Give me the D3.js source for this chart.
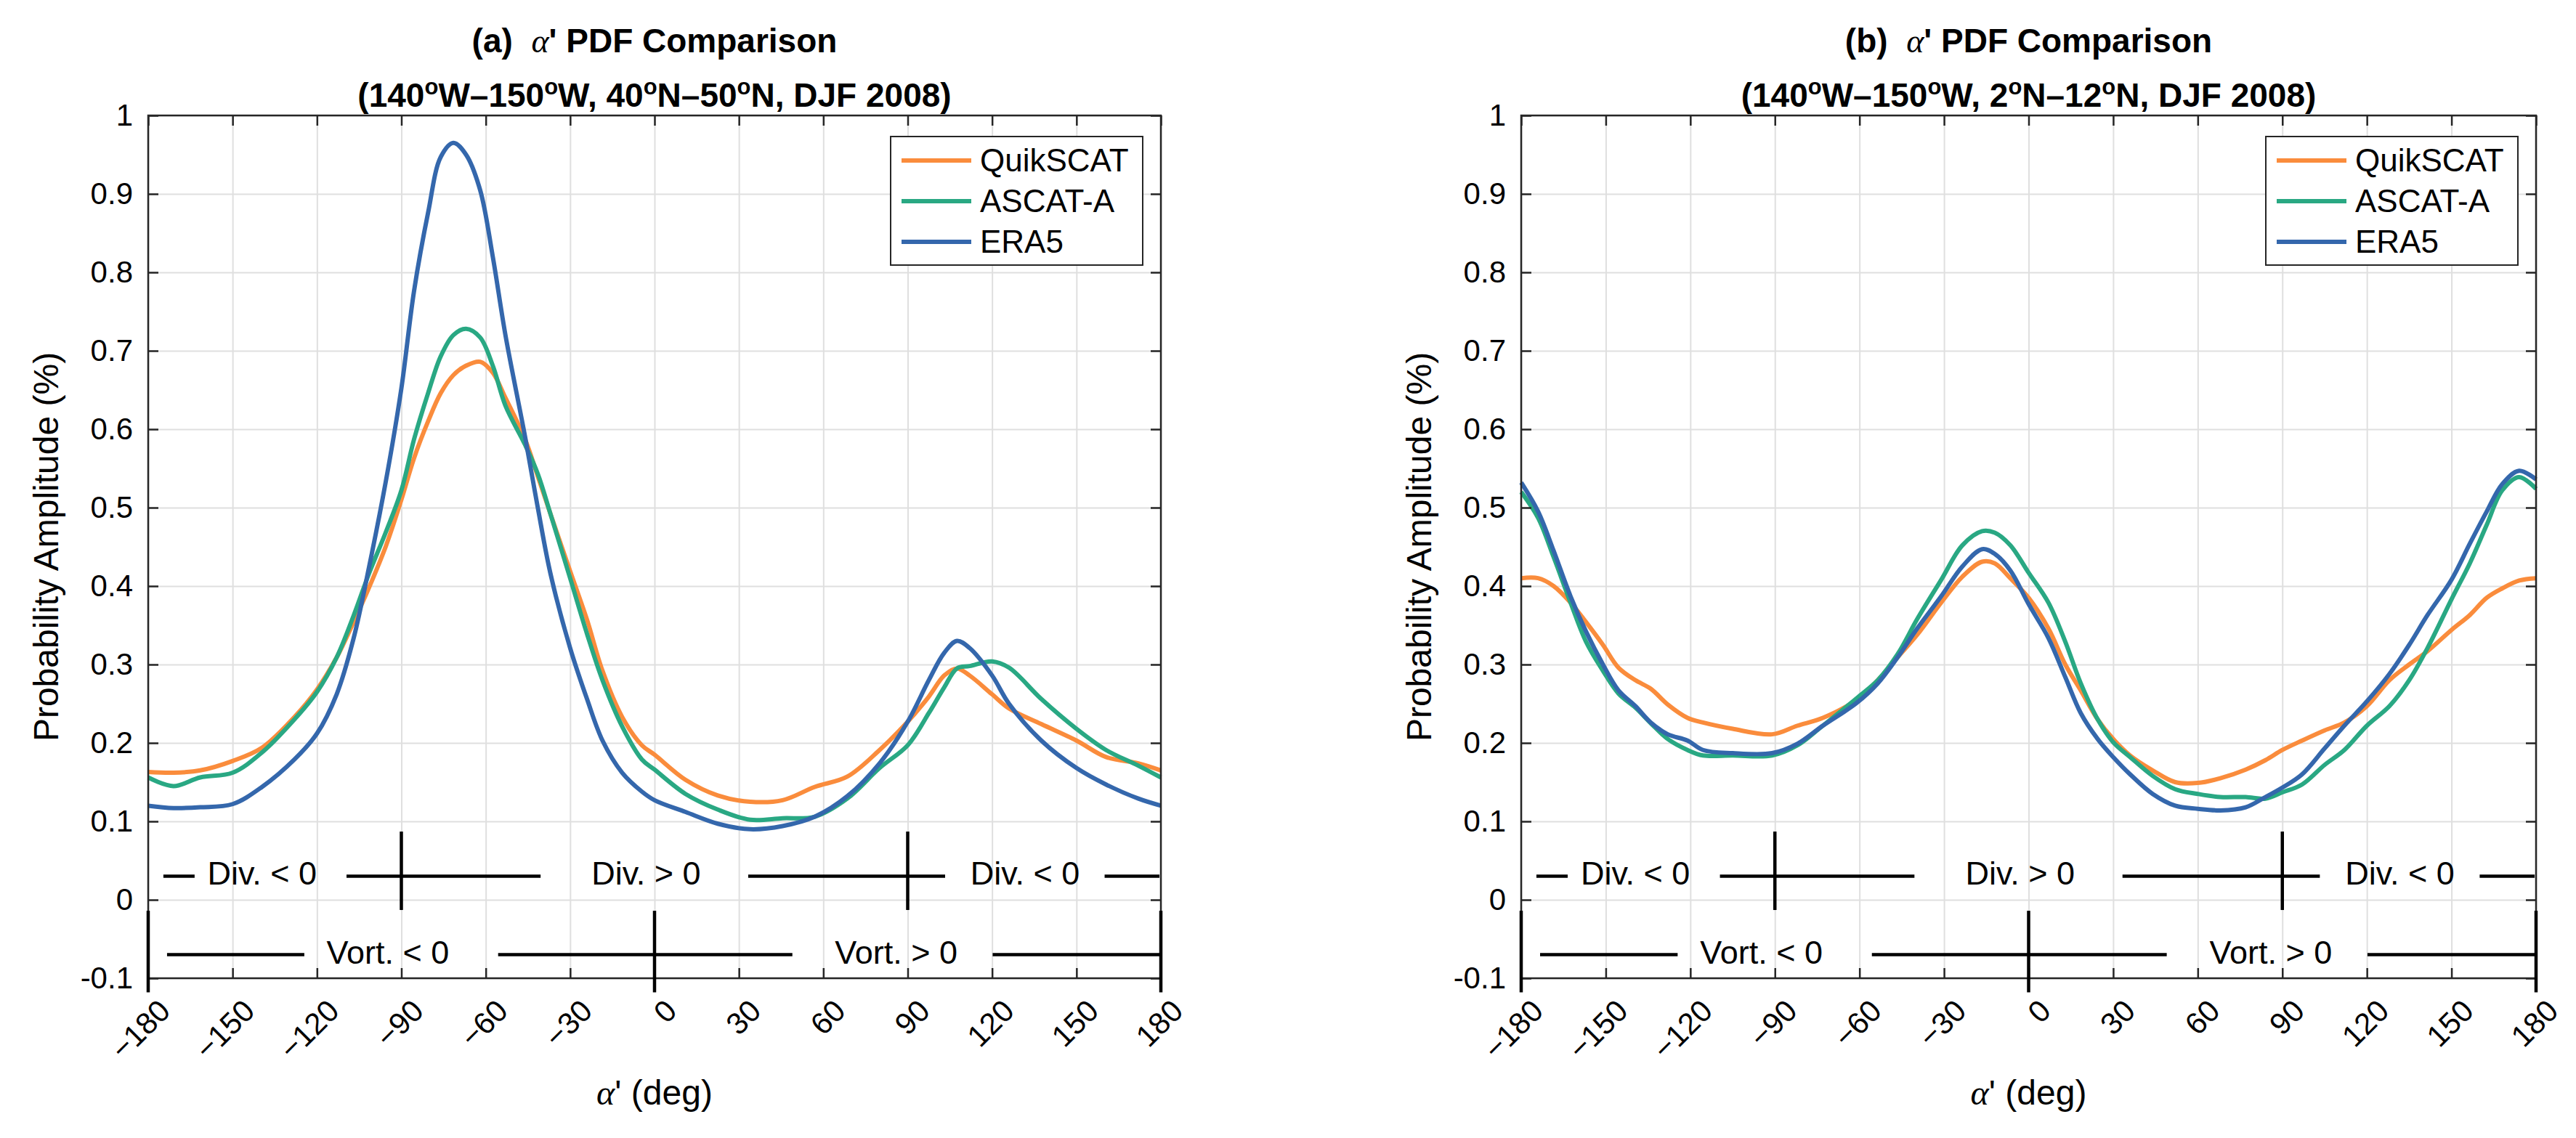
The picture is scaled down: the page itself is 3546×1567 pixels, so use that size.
<!DOCTYPE html>
<html>
<head>
<meta charset="utf-8">
<script src="https://cdn.jsdelivr.net/npm/d3@7"></script>
<style>
  body { margin: 0; background: #fff; }
  text { font-family: "Liberation Sans", Arial, Helvetica, sans-serif; }
</style>
</head>
<body>
<div id="chart"></div>
<script>
// ---------------- data: panel (a), 40N-50N ----------------
var alphaA = [-180, -171, -161.5, -150, -139.5, -128, -120, -113, -107, -101.5, -95.5, -90, -85.5, -80.5, -76, -71.5, -67, -62, -57.5, -53, -46, -41.5, -37, -30, -24, -18.5, -11.5, -4.5, 0,
              11, 22.5, 34, 45.5, 57, 68.5, 80, 90, 97.5, 103, 107.5, 112, 120, 126, 137.5, 150, 160.5, 172, 180];
var quikA = [.163, .162, .165, .177, .194, .233, .268, .309, .354, .398, .451, .510, .563, .610, .646, .669, .681, .686, .672, .640, .587, .540, .492, .419, .357, .292, .233, .197, .185,
             .153, .133, .125, .127, .144, .157, .191, .227, .259, .286, .295, .286, .262, .244, .224, .203, .182, .174, .165];
var ascatA = [.156, .145, .156, .162, .188, .230, .265, .309, .362, .416, .469, .522, .587, .646, .693, .720, .728, .717, .681, .630, .580, .543, .492, .410, .339, .280, .221, .179, .166,
              .135, .115, .102, .104, .106, .129, .168, .197, .238, .271, .295, .298, .304, .296, .256, .218, .191, .171, .156];
var era5A = [.120, .117, .118, .122, .144, .179, .212, .262, .333, .424, .534, .652, .776, .876, .947, .965, .950, .905, .820, .720, .590, .500, .416, .321, .256, .203, .162, .138, .127,
             .112, .097, .090, .094, .106, .132, .174, .227, .280, .315, .330, .321, .286, .250, .203, .168, .147, .129, .120];

// ---------------- data: panel (b), 2N-12N ----------------
var alphaB = [-180, -174, -168.5, -162.5, -157, -151, -145.5, -139.5, -134, -128, -121, -115.5, -105, -91, -82, -73, -61, -53.5, -46.5, -39.5, -31, -23.5, -16.5, -12, -6.5, 0,
              7, 13, 18.5, 24.5, 30, 36, 44, 52, 60, 68, 77, 84, 90, 97, 105, 112, 120, 128, 135, 141.5, 150, 156.5, 162.5, 168, 174, 180];
var quikB = [.410, .410, .400, .379, .354, .325, .296, .280, .269, .249, .232, .226, .218, .211, .222, .232, .255, .280, .309, .338, .379, .412, .431, .429, .410, .385,
             .346, .300, .267, .230, .205, .184, .165, .150, .149, .155, .166, .178, .191, .203, .216, .226, .247, .280, .300, .317, .344, .363, .385, .397, .407, .410];
var ascatB = [.520, .487, .437, .379, .329, .292, .263, .245, .225, .205, .191, .184, .184, .184, .197, .222, .257, .280, .313, .358, .408, .452, .470, .468, .452, .417,
              .379, .329, .276, .230, .201, .182, .158, .141, .135, .131, .131, .129, .137, .147, .172, .191, .222, .247, .280, .321, .383, .429, .478, .522, .539, .524];
var era5B = [.532, .495, .445, .387, .342, .300, .267, .247, .226, .211, .203, .191, .187, .187, .199, .222, .251, .276, .309, .346, .387, .425, .447, .441, .420, .377,
             .334, .284, .238, .205, .182, .160, .135, .120, .116, .114, .118, .131, .143, .160, .193, .222, .253, .288, .325, .363, .408, .454, .495, .530, .547, .536];

var seriesNames = ["QuikSCAT", "ASCAT-A", "ERA5"];
var seriesColors = ["#FA8C3C", "#29A883", "#3467AC"];

// ticks
var xTickValues = [-180, -150, -120, -90, -60, -30, 0, 30, 60, 90, 120, 150, 180];
var xTickLabels = ["\u2212180", "\u2212150", "\u2212120", "\u221290", "\u221260", "\u221230", "0", "30", "60", "90", "120", "150", "180"];
var yTickValues = [-0.1, 0, 0.1, 0.2, 0.3, 0.4, 0.5, 0.6, 0.7, 0.8, 0.9, 1];
var yTickLabels = ["-0.1", "0", "0.1", "0.2", "0.3", "0.4", "0.5", "0.6", "0.7", "0.8", "0.9", "1"];

// divergence / vorticity sign bands (deg, value)
var divLevel = 0.03;
var divSegments = [[-174.6, -163.5], [-109.5, -40.5], [33.3, 103.3], [160, 179.5]];
var divLabels = ["Div. < 0", "Div. > 0", "Div. < 0"];
var divLabelAt = [-139.5, -3, 131.7];
var divMarks = [-90, 90];
var divMarkRange = [-0.013, 0.087];
var vortLevel = -0.07;
var vortSegments = [[-173.3, -124.5], [-55.6, 49], [120.2, 180]];
var vortLabels = ["Vort. < 0", "Vort. > 0"];
var vortLabelAt = [-94.8, 85.9];
var vortMarks = [-180, 0, 180];
var vortMarkRange = [-0.118, -0.014];

var panels = [
    {left: 204, right: 1598, tag: "(a)", lat: ["40", "50"], alpha: alphaA, series: [quikA, ascatA, era5A]},
    {left: 2094, right: 3491, tag: "(b)", lat: ["2", "12"], alpha: alphaB, series: [quikB, ascatB, era5B]}
];

var plotTop = 159, plotBottom = 1347;
var ink = "#262626";

var svg = d3.select("#chart").append("svg")
    .attr("width", 3546)
    .attr("height", 1567)
    .style("background", "#fff");

panels.forEach(drawPanel);

function drawPanel(p) {
    var x = d3.scaleLinear().domain([-180, 180]).range([p.left, p.right]);
    var y = d3.scaleLinear().domain([-0.1, 1]).range([plotBottom, plotTop]);
    var g = svg.append("g");
    var mid = (p.left + p.right) / 2;

    // grid
    var gx = g.append("g")
        .attr("transform", "translate(0," + plotBottom + ")")
        .call(d3.axisBottom(x).tickValues(xTickValues).tickSize(-(plotBottom - plotTop)).tickFormat(""));
    var gy = g.append("g")
        .attr("transform", "translate(" + p.left + ",0)")
        .call(d3.axisLeft(y).tickValues(yTickValues).tickSize(-(p.right - p.left)).tickFormat(""));
    [gx, gy].forEach(function(s) {
        s.select(".domain").remove();
        s.selectAll("line").attr("stroke", "#dfdfdf").attr("stroke-width", 2);
    });

    // curves
    var line = d3.line()
        .x(function(d) { return x(d[0]); })
        .y(function(d) { return y(d[1]); })
        .curve(d3.curveCatmullRom.alpha(0.5));
    p.series.forEach(function(vals, i) {
        g.append("path")
            .datum(d3.zip(p.alpha, vals))
            .attr("fill", "none")
            .attr("stroke", seriesColors[i])
            .attr("stroke-width", 6)
            .attr("stroke-linejoin", "round")
            .attr("d", line);
    });

    // axes box + inward ticks
    var axL = g.append("g").attr("transform", "translate(" + p.left + ",0)")
        .call(d3.axisLeft(y).tickValues(yTickValues).tickSize(-14).tickPadding(21)
            .tickFormat(function(d, i) { return yTickLabels[i]; }));
    var axR = g.append("g").attr("transform", "translate(" + p.right + ",0)")
        .call(d3.axisRight(y).tickValues(yTickValues).tickSize(-14).tickFormat(""));
    var axT = g.append("g").attr("transform", "translate(0," + plotTop + ")")
        .call(d3.axisTop(x).tickValues(xTickValues).tickSize(-14).tickFormat(""));
    var axB = g.append("g").attr("transform", "translate(0," + plotBottom + ")")
        .call(d3.axisBottom(x).tickValues(xTickValues).tickSize(-14)
            .tickFormat(function(d, i) { return xTickLabels[i]; }));
    [axL, axR, axT, axB].forEach(function(s) {
        s.attr("color", ink).attr("font-size", null).attr("font-family", null);
        s.select(".domain").remove();
        s.selectAll("line").attr("stroke-width", 2.5);
        s.selectAll("text").attr("fill", "#000").style("font-size", "42px");
    });
    axB.selectAll("text")
        .attr("y", 0)
        .attr("dy", "0.35em")
        .attr("text-anchor", "end")
        .attr("transform", "translate(22,37) rotate(-45)");

    g.append("rect")
        .attr("x", p.left).attr("y", plotTop)
        .attr("width", p.right - p.left).attr("height", plotBottom - plotTop)
        .attr("fill", "none").attr("stroke", ink).attr("stroke-width", 2.5);

    // sign bands
    var ann = g.append("g").attr("stroke", "#000").attr("stroke-width", 4.5);
    divSegments.concat(vortSegments).forEach(function(s, i) {
        var lv = i < divSegments.length ? divLevel : vortLevel;
        ann.append("line")
            .attr("x1", x(s[0])).attr("x2", x(s[1]))
            .attr("y1", y(lv)).attr("y2", y(lv));
    });
    divMarks.forEach(function(m) {
        ann.append("line").attr("x1", x(m)).attr("x2", x(m))
            .attr("y1", y(divMarkRange[0])).attr("y2", y(divMarkRange[1]));
    });
    vortMarks.forEach(function(m) {
        ann.append("line").attr("x1", x(m)).attr("x2", x(m))
            .attr("y1", y(vortMarkRange[0])).attr("y2", y(vortMarkRange[1]));
    });
    divLabels.forEach(function(t, i) {
        g.append("text").attr("x", x(divLabelAt[i])).attr("y", y(divLevel)).attr("dy", "0.26em")
            .attr("text-anchor", "middle").style("font-size", "45px").text(t);
    });
    vortLabels.forEach(function(t, i) {
        g.append("text").attr("x", x(vortLabelAt[i])).attr("y", y(vortLevel)).attr("dy", "0.27em")
            .attr("text-anchor", "middle").style("font-size", "45px").text(t);
    });

    // legend
    var lgRight = p.right - 25, lgLeft = lgRight - 347;
    var lg = g.append("g");
    lg.append("rect")
        .attr("x", lgLeft).attr("y", 188).attr("width", 347).attr("height", 177)
        .attr("fill", "#fff").attr("stroke", ink).attr("stroke-width", 2);
    seriesNames.forEach(function(name, i) {
        var ly = 221 + i * 56;
        lg.append("line")
            .attr("x1", lgLeft + 15).attr("x2", lgLeft + 111)
            .attr("y1", ly).attr("y2", ly)
            .attr("stroke", seriesColors[i]).attr("stroke-width", 6);
        lg.append("text")
            .attr("x", lgLeft + 123).attr("y", ly).attr("dy", "0.35em")
            .style("font-size", "44px").text(name);
    });

    // labels
    var xl = g.append("text").attr("x", mid).attr("y", plotBottom + 174)
        .attr("text-anchor", "middle").style("font-size", "48px");
    xl.append("tspan").attr("font-family", "Liberation Serif").attr("font-style", "italic").text("\u03b1");
    xl.append("tspan").text("' (deg)");

    g.append("text")
        .attr("transform", "translate(" + (p.left - 124) + "," + ((plotTop + plotBottom) / 2) + ") rotate(-90)")
        .attr("text-anchor", "middle").style("font-size", "48px")
        .text("Probability Amplitude (%)");

    // title
    var t1 = g.append("text").attr("x", mid).attr("y", 72)
        .attr("text-anchor", "middle").attr("font-weight", "bold").style("font-size", "46px");
    t1.append("tspan").text(p.tag + "\u00a0 ");
    t1.append("tspan").attr("font-family", "Liberation Serif").attr("font-style", "italic")
        .attr("font-weight", "normal").text("\u03b1");
    t1.append("tspan").text("' PDF Comparison");

    var t2 = g.append("text").attr("x", mid).attr("y", 147)
        .attr("text-anchor", "middle").attr("font-weight", "bold").style("font-size", "46px");
    var parts = ["(140", "W\u2013150", "W, " + p.lat[0], "N\u2013" + p.lat[1], "N, DJF 2008)"];
    parts.forEach(function(s, i) {
        var ts = t2.append("tspan").text(s);
        if (i > 0) ts.attr("dy", 17);
        if (i < parts.length - 1) {
            t2.append("tspan").attr("dy", -17).style("font-size", "31px").text("o");
        }
    });
}
</script>
</body>
</html>
